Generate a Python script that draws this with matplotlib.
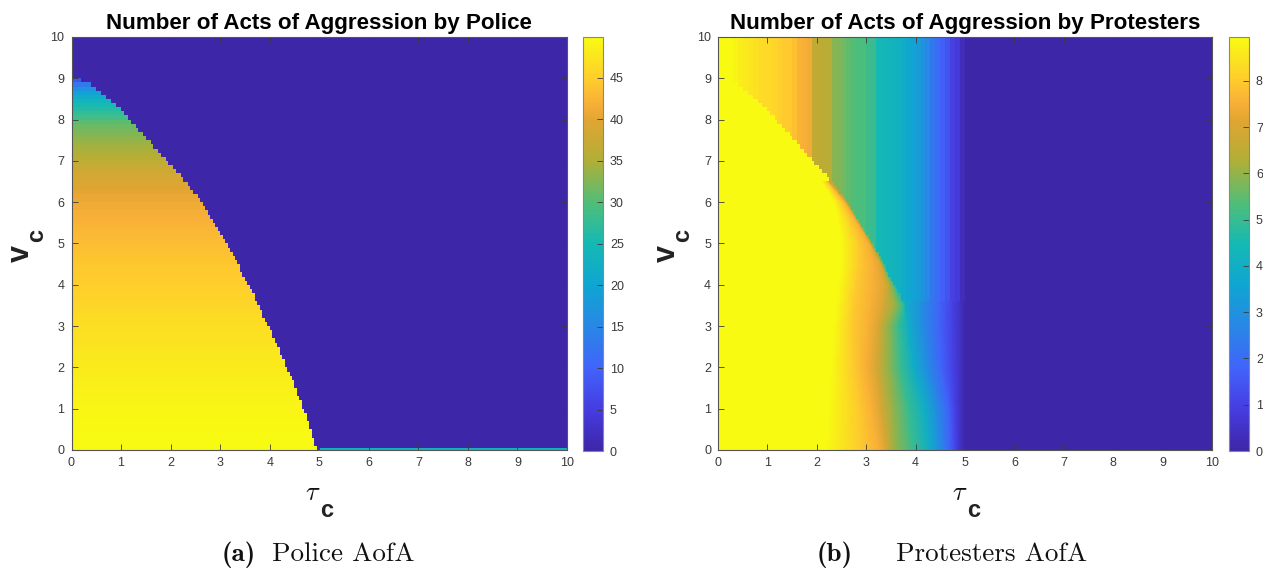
import numpy as np
import matplotlib
matplotlib.use("Agg")
import matplotlib.pyplot as plt
from matplotlib.colors import LinearSegmentedColormap, Normalize
from matplotlib.cm import ScalarMappable

W, H = 1263, 571
plt.rcParams['font.family'] = ['Liberation Sans', 'DejaVu Sans']

# colour bar as seen in the reference: (fraction, rgb 0-255)
cmap_pos = [0, .1, .2, .3, .4, .5, .6, .7, .8, .84, .9, 1]
cmap_rgb = [(62,38,168),(70,60,225),(65,100,250),(40,135,230),(15,165,210),(20,185,180),
            (80,190,120),(175,175,55),(225,165,50),(248,175,55),(255,205,45),(248,250,18)]
parula = LinearSegmentedColormap.from_list(
    'parula', [(p, tuple(c / 255 for c in rgb)) for p, rgb in zip(cmap_pos, cmap_rgb)], N=256)

tick_vals = [0, 1, 2, 3, 4, 5, 6, 7, 8, 9, 10]
police_cbar_ticks = [0, 5, 10, 15, 20, 25, 30, 35, 40, 45]
protester_cbar_ticks = [0, 1, 2, 3, 4, 5, 6, 7, 8]
police_vmax = 49.9
protester_vmax = 8.95

# edge of the aggressive region: tau at each 0.1 row of v (v = 0.05 ... 8.95)
boundary_tau = np.array([
 4.95,4.90,4.90,4.85,4.85,4.80,4.80,4.75,4.75,4.70,
 4.65,4.65,4.60,4.55,4.55,4.50,4.50,4.45,4.40,4.35,
 4.30,4.30,4.25,4.20,4.20,4.15,4.10,4.05,4.05,4.00,
 3.95,3.90,3.85,3.85,3.80,3.75,3.70,3.70,3.65,3.60,
 3.55,3.50,3.45,3.40,3.40,3.35,3.30,3.25,3.20,3.15,
 3.10,3.05,3.00,2.95,2.90,2.85,2.80,2.75,2.70,2.65,
 2.60,2.55,2.45,2.40,2.35,2.25,2.20,2.10,2.05,1.95,
 1.90,1.80,1.75,1.65,1.60,1.50,1.45,1.35,1.30,1.20,
 1.15,1.05,1.00,0.90,0.80,0.70,0.60,0.50,0.40,0.20])

# police aggression inside that region, per v row
police_rows = np.array([
 49.9,49.9,49.8,49.8,49.7,49.7,49.6,49.5,49.4,49.3,
 49.2,49.1,49.0,48.9,48.8,48.7,48.6,48.5,48.3,48.2,
 48.0,47.9,47.7,47.6,47.4,47.3,47.1,47.0,46.8,46.7,
 46.5,46.4,46.2,46.1,45.9,45.8,45.6,45.5,45.3,45.2,
 45.0,44.8,44.6,44.5,44.3,44.1,43.9,43.7,43.5,43.3,
 43.1,42.9,42.7,42.5,42.3,42.1,41.8,41.6,41.3,41.0,
 40.7,40.4,40.1,39.7,39.3,38.9,38.5,38.0,37.5,37.0,
 36.0,35.4,34.8,34.2,33.6,33.0,32.4,31.8,31.2,30.5,
 28.6,27.6,26.4,25.2,23.8,21.8,19.6,16.8,13.0,8.0])
police_bottom_strip = 23.0

# protesters: vertical stripes seen in the upper part, per 0.1 of tau (0 ... 5)
protester_top = np.array([
 8.95,8.95,8.95,8.8,8.7,8.6,8.5,8.4,8.35,8.3,
 8.3,8.2,8.1,8.0,8.0,7.8,7.6,7.5,7.4,6.6,
 6.5,6.5,6.4,5.9,5.8,5.7,5.5,5.4,5.3,5.3,
 5.1,5.0,4.5,4.4,4.3,4.2,4.1,3.9,3.7,3.5,
 3.3,3.0,2.7,2.3,2.0,1.7,1.4,1.0,0.8,0.3])

# protesters, lower part: tau where each value level is crossed, per v row
mesh_levels = np.array([8.95, 8.0, 7.5, 7.0, 6.0, 5.0, 4.0, 3.0, 1.8, 1.0, 0.5, 0.0])
mesh_v = np.array([0, 1, 2, 3, 3.5, 4, 4.5, 5, 5.5, 6, 6.5])
mesh_tau = np.array([
 [2.20, 2.90, 3.25, 3.40, 3.60, 3.95, 4.28, 4.47, 4.69, 4.82, 4.90, 5.00],
 [2.25, 2.85, 3.12, 3.30, 3.55, 3.85, 4.18, 4.40, 4.66, 4.80, 4.90, 5.00],
 [2.30, 2.75, 3.00, 3.20, 3.45, 3.70, 3.95, 4.20, 4.52, 4.76, 4.90, 5.00],
 [2.35, 2.72, 3.05, 3.25, 3.45, 3.65, 3.85, 4.10, 4.48, 4.75, 4.90, 5.00],
 [2.40, 2.75, 3.10, 3.35, 3.60, 3.75, 3.80, 4.10, 4.48, 4.75, 4.90, 5.00],
 [2.45, 2.80, 3.15, 3.40, 3.50, 3.57, 3.70, 4.10, 4.48, 4.75, 4.90, 5.00],
 [2.50, 2.85, 3.15, 3.30, 3.33, 3.36, 3.65, 4.10, 4.48, 4.75, 4.90, 5.00],
 [2.50, 2.85, 3.05, 3.10, 3.11, 3.20, 3.65, 4.10, 4.48, 4.75, 4.90, 5.00],
 [2.45, 2.70, 2.82, 2.85, 2.87, 3.20, 3.65, 4.10, 4.48, 4.75, 4.90, 5.00],
 [2.35, 2.50, 2.58, 2.60, 2.62, 3.20, 3.65, 4.10, 4.48, 4.75, 4.90, 5.00],
 [2.10, 2.20, 2.24, 2.25, 2.40, 3.20, 3.65, 4.10, 4.48, 4.75, 4.90, 5.00]])
stripes_from_row = 36  # from v = 3.6 up the stripes run right down to the boundary

tau_step_edges = np.append(np.linspace(0, 5, 51), 10)
fine_tau = np.linspace(0, 5, 101)
fine_v = np.linspace(0, 9, 91)
centers = (fine_tau[:-1] + fine_tau[1:]) / 2
outside = centers[None, :] >= boundary_tau[:, None]


def px_axes(x0, x1, y0, y1):
    return fig.add_axes([x0 / W, 1 - y1 / H, (x1 - x0) / W, (y1 - y0) / H])


def fig_text(x, y, s, **kw):
    fig.text(x / W, 1 - y / H, s, ha=kw.pop('ha', 'left'), va=kw.pop('va', 'baseline'), **kw)


fig = plt.figure(figsize=(W / 100, H / 100), dpi=100)
ink = '#3a3a3a'


def style(ax, title):
    ax.set_xlim(0, 10)
    ax.set_ylim(0, 10)
    ax.set_xticks(tick_vals)
    ax.set_yticks(tick_vals)
    ax.tick_params(direction='in', top=True, right=True, length=4, width=0.6,
                   labelsize=9, colors=ink, pad=5)
    for s in ax.spines.values():
        s.set_linewidth(0.8)
        s.set_color('#555555')
    ax.set_title(title, fontsize=16.1, fontweight='bold', color='black', pad=6)


def add_cbar(x0, x1, vmax, ticks):
    cax = px_axes(x0, x1, 37, 451)
    cb = fig.colorbar(ScalarMappable(Normalize(0, vmax), parula), cax=cax, ticks=ticks)
    cb.ax.tick_params(direction='in', length=4, width=0.6, labelsize=9, colors=ink, pad=5)
    cb.outline.set_edgecolor('#888888')
    cb.outline.set_linewidth(0.8)


# ---- (a) police
norm_a = Normalize(0, police_vmax)
ax1 = px_axes(71.5, 567, 37, 450)
ax1.pcolormesh([0, 10], [0, 10], [[0.0]], cmap=parula, norm=norm_a)
police_grid = np.ma.masked_where(outside, np.repeat(police_rows[:, None], 100, axis=1))
ax1.pcolormesh(fine_tau, fine_v, police_grid, cmap=parula, norm=norm_a)
ax1.pcolormesh([5, 10], [0, 0.05], [[police_bottom_strip]], cmap=parula, norm=norm_a)
style(ax1, 'Number of Acts of Aggression by Police')
add_cbar(583, 603, police_vmax, police_cbar_ticks)

# ---- (b) protesters
norm_b = Normalize(0, protester_vmax)
ax2 = px_axes(718, 1212, 37, 450)
ax2.pcolormesh(tau_step_edges, [0, 10], np.append(protester_top, 0.0)[None, :], cmap=parula, norm=norm_b)
yellow_grid = np.ma.masked_where(outside, np.full(outside.shape, protester_vmax))
ax2.pcolormesh(fine_tau, fine_v, yellow_grid, cmap=parula, norm=norm_b)
Y_mesh = np.repeat(mesh_v[:, None], mesh_tau.shape[1], axis=1)
C_mesh = np.repeat(mesh_levels[None, :], mesh_tau.shape[0], axis=0)
ax2.pcolormesh(mesh_tau, Y_mesh, C_mesh, shading='gouraud', cmap=parula, norm=norm_b)
stripe_grid = np.repeat(np.repeat(protester_top, 2)[None, :], 90, axis=0)
stripe_mask = ~outside
stripe_mask[:stripes_from_row, :] = True
ax2.pcolormesh(fine_tau, fine_v, np.ma.masked_where(stripe_mask, stripe_grid), cmap=parula, norm=norm_b)
style(ax2, 'Number of Acts of Aggression by Protesters')
add_cbar(1229, 1249, protester_vmax, protester_cbar_ticks)

# ---- axis labels
tau_kw = dict(fontsize=19, color='#111111', math_fontfamily='cm')
sub_kw = dict(fontsize=17, color='#222222', family='Liberation Sans', fontweight='bold')
for tx, cx in [(305, 320), (952, 967)]:
    fig_text(tx, 500, r'$\tau$', **tau_kw)
    fig_text(cx, 517, 'c', **sub_kw)
for vx, cx in [(29, 43), (675, 689)]:
    fig_text(vx, 262, 'v', rotation=90, rotation_mode='anchor', fontsize=22,
             color='#222222', fontweight='bold')
    fig_text(cx, 242, 'c', rotation=90, rotation_mode='anchor', **sub_kw)

# ---- captions
cap = dict(fontsize=19.5, color='#111111')
fig_text(222, 561, '(a)', family='cmb10', **cap)
fig_text(272, 561, 'Police AofA', family='cmr10', **cap)
fig_text(817, 561, '(b)', family='cmb10', **cap)
fig_text(896, 561, 'Protesters AofA', family='cmr10', **cap)

fig.savefig('out.png', dpi=100)
